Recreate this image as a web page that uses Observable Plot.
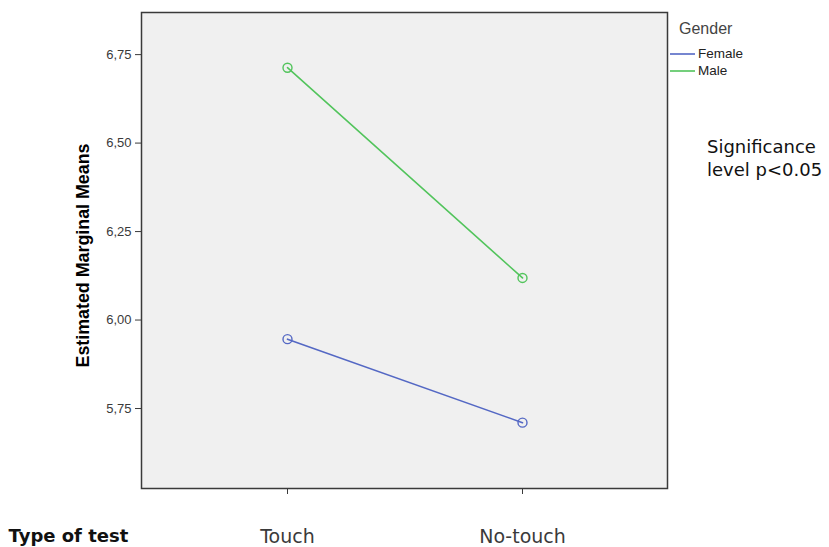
<!DOCTYPE html>
<html>
<head>
<meta charset="utf-8">
<script src="https://cdn.jsdelivr.net/npm/d3@7"></script>
<script src="https://cdn.jsdelivr.net/npm/@observablehq/plot@0.6"></script>
<style>
  body { margin: 0; background: #fff; }
  #wrap { position: relative; width: 829px; height: 547px; overflow: hidden; }
  #legend { position: absolute; left: 670px; top: 20px; font-family: "Liberation Sans", Arial, sans-serif; color: #333; }
  #legend .title { font-size: 16px; margin-left: 9px; margin-bottom: 7px; color: #444; }
  #legend .row { display: flex; align-items: center; font-size: 13.5px; height: 17px; color: #222; }
  #legend svg { margin-right: 2px; }
  #note { position: absolute; left: 707px; top: 135px; font-family: "DejaVu Sans", sans-serif; font-size: 18px; line-height: 23px; color: #111; }
</style>
</head>
<body>
<div id="wrap"></div>
<script>
// Estimated marginal means by type of test and gender
const tests = ["Touch", "No-touch"];
const genders = ["Female", "Male"];
const femaleMeans = [5.946, 5.710];
const maleMeans = [6.713, 6.119];
const yTicks = [5.75, 6.00, 6.25, 6.50, 6.75];
const genderColors = ["#5468c4", "#52c45c"];

const rows = [];
tests.forEach((t, i) => {
  rows.push({test: t, gender: "Female", mean: femaleMeans[i]});
  rows.push({test: t, gender: "Male", mean: maleMeans[i]});
});

const commaFormat = d => d3.format(".2f")(d).replace(".", ",");

const chart = Plot.plot({
  width: 829,
  height: 547,
  marginLeft: 141,
  marginRight: 162,
  marginTop: 12,
  marginBottom: 59,
  style: {fontFamily: "'Liberation Sans', Arial, sans-serif", background: "#fff"},
  x: {type: "point", domain: tests, padding: 0.619},
  y: {domain: [5.524, 6.869]},
  color: {domain: genders, range: genderColors},
  marks: [
    Plot.frame({fill: "#f0f0f0", stroke: "none"}),
    Plot.axisY(yTicks, {
      tickSize: 6, tickPadding: 4, tickFormat: commaFormat,
      fontSize: 13, color: "#3a3a3a", label: null
    }),
    Plot.axisX({
      tickSize: 6, tickPadding: 35, fontSize: 19,
      fontFamily: "'DejaVu Sans', sans-serif", color: "#3a3a3a", label: null
    }),
    Plot.text(["Estimated Marginal Means"], {
      frameAnchor: "left", textAnchor: "middle", rotate: -90, dx: -59, dy: 5,
      fontSize: 19, fontWeight: "bold",
      fontFamily: "'Liberation Sans', Arial, sans-serif",
      fill: "#000", className: "ylab"
    }),
    Plot.text(["Type of test"], {
      frameAnchor: "bottom-left", textAnchor: "start", dx: -133, dy: 53,
      fontSize: 18, fontWeight: "bold",
      fontFamily: "'DejaVu Sans', sans-serif", fill: "#111"
    }),
    Plot.line(rows, {x: "test", y: "mean", stroke: "gender", z: "gender", strokeWidth: 1.6}),
    Plot.dot(rows, {x: "test", y: "mean", stroke: "gender", r: 4.5, strokeWidth: 1.4, fill: "none"}),
    Plot.frame({stroke: "#3a3a3a", strokeWidth: 1.5})
  ]
});

// condensed rendering of the vertical axis title
chart.querySelectorAll(".ylab text").forEach(t => {
  t.setAttribute("textLength", "224");
  t.setAttribute("lengthAdjust", "spacingAndGlyphs");
});

const wrap = document.getElementById("wrap");
wrap.appendChild(chart);

// Legend for the gender series
const legend = document.createElement("div");
legend.id = "legend";
legend.innerHTML = `<div class="title">Gender</div>` + genders.map((g, i) =>
  `<div class="row"><svg width="26" height="4"><line x1="0" x2="25" y1="2" y2="2" stroke="${genderColors[i]}" stroke-width="1.6"/></svg>${g}</div>`
).join("");
wrap.appendChild(legend);

const note = document.createElement("div");
note.id = "note";
note.innerHTML = "Significance<br>level p&lt;0.05";
wrap.appendChild(note);
</script>
</body>
</html>
